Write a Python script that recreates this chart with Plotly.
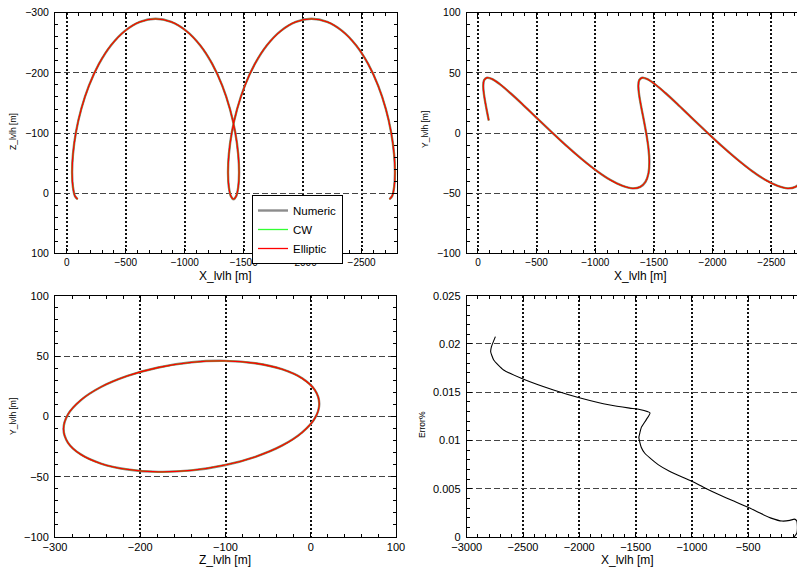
import plotly.graph_objects as go

# ---- trajectory data (LVLH frame, metres) ----
x_lvlh = [-92, -69.5, -52.2, -45.1, -52.5, -77.6, -122.5, -187.8, -272.8, -375.6,
          -492.8, -620.3, -753, -885.6, -1013.1, -1130.3, -1233.1, -1318.2, -1383.4,
          -1428.3, -1453.4, -1460.8, -1453.8, -1436.4, -1413.9, -1391.4, -1374.1,
          -1367.1, -1374.4, -1399.5, -1444.4, -1509.7, -1594.8, -1697.5, -1814.7,
          -1942.2, -2074.9, -2207.6, -2335, -2452.2, -2555, -2640.1, -2705.4,
          -2750.2, -2775.3, -2782.7, -2775.7, -2758.4, -2735.8]
z_lvlh = [10, 4.9, -10.1, -33.9, -65, -101.2, -140, -178.8, -215, -246.1, -269.9,
          -284.9, -290, -284.9, -269.9, -246.1, -215, -178.8, -140, -101.2, -65,
          -33.9, -10.1, 4.9, 10, 4.9, -10.1, -33.9, -65, -101.2, -140, -178.8, -215,
          -246.1, -269.9, -284.9, -290, -284.9, -269.9, -246.1, -215, -178.8, -140,
          -101.2, -65, -33.9, -10.1, 4.9, 10]
y_lvlh = [10.5, 21.7, 31.5, 39.1, 44.0, 46.0, 44.8, 40.5, 33.5, 24.3, 13.3, 1.5,
          -10.5, -21.7, -31.5, -39.1, -44.0, -46.0, -44.8, -40.5, -33.5, -24.3, -13.3,
          -1.5, 10.5, 21.7, 31.5, 39.1, 44.0, 46.0, 44.8, 40.5, 33.5, 24.3, 13.3, 1.5,
          -10.5, -21.7, -31.5, -39.1, -44.0, -46.0, -44.8, -40.5, -33.5, -24.3, -13.3,
          -1.5, 10.5]

# ---- error curve (percent) versus X_lvlh ----
err_x = [-93, -68, -63, -70, -90, -130, -200, -290, -400, -500, -640, -757, -880,
         -1000, -1199, -1300, -1376, -1420, -1449, -1471, -1462, -1449, -1405, -1372,
         -1464, -1553, -1727, -2000, -2229, -2500, -2672, -2760, -2787, -2780, -2745]
err_pct = [0, 0.0004, 0.0011, 0.0017, 0.00185, 0.00172, 0.00165, 0.00193, 0.0025,
           0.00308, 0.00378, 0.00437, 0.00505, 0.00577, 0.00681, 0.0075, 0.00822,
           0.0087, 0.00927, 0.0103, 0.0108, 0.01136, 0.01216, 0.01286, 0.01321,
           0.01335, 0.01367, 0.01443, 0.01523, 0.01637, 0.0173, 0.01834, 0.0192,
           0.01972, 0.02076]

series_names = ["Numeric", "CW", "Elliptic"]
series_colors = ["#8c8c8c", "#33ff33", "#ff0000"]
series_widths = [2.4, 1.3, 1.3]

FONT = "Liberation Sans, Arial, sans-serif"
# page body has an 8 px margin; the figure is sized/placed to compensate
OFF = 8
W, H = 805 - OFF, 568 - OFF


def px_x(p):
    return (p - OFF) / W


def px_y(p):
    return 1 - (p - OFF) / H


fig = go.Figure()

panels = [
    ("x", "y", x_lvlh, z_lvlh),
    ("x2", "y2", x_lvlh, y_lvlh),
    ("x3", "y3", z_lvlh, y_lvlh),
]
for pi, (xa, ya, xs, ys) in enumerate(panels):
    for name, col, lw in zip(series_names, series_colors, series_widths):
        fig.add_trace(go.Scatter(
            x=xs, y=ys, mode="lines", name=name, xaxis=xa, yaxis=ya,
            line=dict(color=col, width=lw, shape="spline", smoothing=1.0),
            showlegend=(pi == 0), hoverinfo="skip"))

fig.add_trace(go.Scatter(
    x=err_x, y=err_pct, mode="lines", xaxis="x4", yaxis="y4", showlegend=False,
    line=dict(color="black", width=1.1, shape="spline", smoothing=0.5)))


def xax(domain, rng, dtick, minor, anchor, fs):
    return dict(domain=domain, range=rng, dtick=dtick, tick0=0, anchor=anchor,
                automargin=False, ticklabeloverflow="allow",
                showline=True, linecolor="black", linewidth=1, mirror="allticks",
                ticks="inside", ticklen=5, tickcolor="black",
                showgrid=True, gridcolor="#111", gridwidth=1.5, griddash="2px,2px",
                zeroline=False, tickfont=dict(family=FONT, size=fs, color="black"),
                minor=dict(dtick=minor, ticks="inside", ticklen=3, tickcolor="black",
                           showgrid=False))


def yax(domain, rng, dtick, minor, anchor, fs):
    return dict(domain=domain, range=rng, dtick=dtick, tick0=0, anchor=anchor,
                automargin=False, ticklabeloverflow="allow",
                showline=True, linecolor="black", linewidth=1, mirror="allticks",
                ticks="inside", ticklen=5, tickcolor="black",
                showgrid=True, gridcolor="#444", gridwidth=1, griddash="6px,3px",
                zeroline=False, tickfont=dict(family=FONT, size=fs, color="black"),
                ticklabelstandoff=3,
                minor=dict(dtick=minor, ticks="inside", ticklen=3, tickcolor="black",
                           showgrid=False))


xl = [px_x(55), px_x(397)]
xl3 = [px_x(55), px_x(396)]
xr = [px_x(466.7), px_x(804.5)]
yt = [px_y(253.3), px_y(12.8)]
yb = [px_y(537), px_y(295.7)]

fig.update_layout(
    template="none",
    width=W, height=H, margin=dict(l=0, r=0, t=0, b=0, autoexpand=False),
    paper_bgcolor="white", plot_bgcolor="white",
    font=dict(family=FONT, size=10, color="black"),
    xaxis=xax(xl, [100, -2800], 500, 100, "y", 10),
    yaxis=yax(yt, [100, -300], 100, 20, "x", 10.5),
    xaxis2=xax(xr, [96, -2783], 500, 100, "y2", 10),
    yaxis2=yax(yt, [-100, 100], 50, 10, "x2", 10.5),
    xaxis3=xax(xl3, [-300, 100], 100, 20, "y3", 11),
    yaxis3=yax(yb, [-100, 100], 50, 10, "x3", 11),
    xaxis4=xax(xr, [-3000, 0], 500, 100, "y4", 11),
    yaxis4=yax(yb, [0, 0.025], 0.005, 0.001, "x4", 11),
    legend=dict(x=px_x(252), y=px_y(195), xanchor="left", yanchor="top",
                bordercolor="black", borderwidth=1, bgcolor="white",
                font=dict(family=FONT, size=11.5, color="black"),
                tracegroupgap=0, itemwidth=30,
                entrywidth=66, entrywidthmode="pixels"),
    showlegend=True,
)

titles = [
    ("X_lvlh [m]", 226, 276, 0, 12),
    ("X_lvlh [m]", 640, 276, 0, 12),
    ("Z_lvlh [m]", 225, 560, 0, 12),
    ("X_lvlh [m]", 627, 560, 0, 12),
    ("Z_lvlh [m]", 13, 132, -90, 8.5),
    ("Y_lvlh [m]", 425, 130, -90, 8.5),
    ("Y_lvlh [m]", 13, 417, -90, 8.5),
    ("Error%", 422, 424, -90, 8.5),
]
for txt, px, py, ang, sz in titles:
    fig.add_annotation(text=txt, x=px_x(px), y=px_y(py), xref="paper", yref="paper",
                       showarrow=False, textangle=ang, xanchor="center",
                       yanchor="middle", font=dict(family=FONT, size=sz, color="black"))

fig.write_html("out.html")
